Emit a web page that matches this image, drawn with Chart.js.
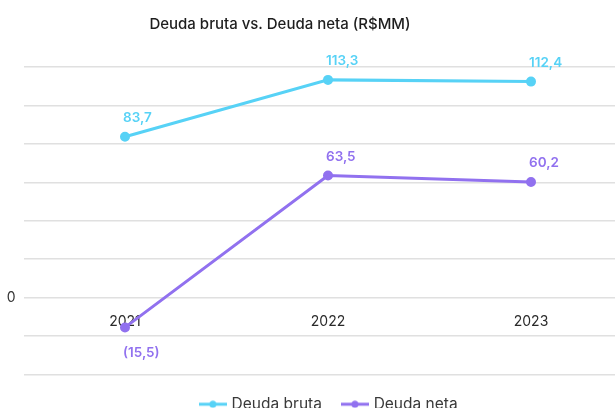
<!DOCTYPE html>
<html>
<head>
<meta charset="utf-8">
<script src="https://cdn.jsdelivr.net/npm/chart.js@4.4.1/dist/chart.umd.min.js"></script>
<style>
  html, body { margin: 0; padding: 0; background: #fff; overflow: hidden; }
  .wrap { position: relative; width: 615px; height: 408px; overflow: hidden; }
  .title {
    position: absolute; left: 0; top: 14px; width: 560px; text-align: center;
    font-family: Inter, sans-serif; font-weight: 500; font-size: 15px; color: #1e1e1e;
  }
</style>
</head>
<body>
<div class="wrap">
  <div class="title">Deuda bruta vs. Deuda neta (R$MM)</div>
  <canvas id="debtChart" width="640" height="408"></canvas>
</div>
<script>
const years = ["2021", "2022", "2023"];
const deudaBruta = [83.7, 113.3, 112.4];
const deudaNeta = [-15.5, 63.5, 60.2];
const yTicks = [-40, -20, 0, 20, 40, 60, 80, 100, 120];

const colorBruta = "#57d2f6";
const colorNeta = "#9171ef";

// marcador de la leyenda: línea con punto
function legendMarker(color) {
  const c = document.createElement("canvas");
  c.width = 28;
  c.height = 8;
  const g = c.getContext("2d");
  g.strokeStyle = color;
  g.lineWidth = 3;
  g.beginPath();
  g.moveTo(0, 4);
  g.lineTo(28, 4);
  g.stroke();
  g.fillStyle = color;
  g.beginPath();
  g.arc(14, 4, 3.5, 0, Math.PI * 2);
  g.fill();
  return c;
}

function fmt(v) {
  const s = Math.abs(v).toFixed(1).replace(".", ",");
  return v < 0 ? "(" + s + ")" : s;
}

// etiquetas de valores sobre cada punto
const valueLabels = {
  id: "valueLabels",
  afterLayout(chart) {
    // la leyenda del original está algo desplazada a la derecha
    chart.legend.left += 10;
    chart.legend.right += 10;
  },
  afterDatasetsDraw(chart) {
    const ctx = chart.ctx;
    ctx.save();
    ctx.font = "600 13.5px Inter, sans-serif";
    ctx.textAlign = "left";
    ctx.textBaseline = "middle";
    chart.data.datasets.forEach((ds, i) => {
      const meta = chart.getDatasetMeta(i);
      meta.data.forEach((pt, j) => {
        const v = ds.data[j];
        ctx.fillStyle = ds.borderColor;
        const y = v < 0 ? pt.y + 26 : pt.y - 19;
        ctx.fillText(fmt(v), pt.x - 2, y);
      });
    });
    ctx.restore();
  },
};

new Chart(document.getElementById("debtChart"), {
  type: "line",
  data: {
    labels: years,
    datasets: [
      {
        label: "Deuda bruta",
        data: deudaBruta,
        borderColor: colorBruta,
        backgroundColor: colorBruta,
        borderWidth: 3,
        pointRadius: 3.5,
        pointHoverRadius: 3.5,
        tension: 0,
      },
      {
        label: "Deuda neta",
        data: deudaNeta,
        borderColor: colorNeta,
        backgroundColor: colorNeta,
        borderWidth: 3,
        pointRadius: 3.5,
        pointHoverRadius: 3.5,
        tension: 0,
      },
    ],
  },
  options: {
    responsive: false,
    animation: false,
    layout: {
      padding: { top: 67, left: 7, right: 7.5, bottom: -14 },
    },
    scales: {
      x: {
        position: { y: 0 },
        offset: true,
        grid: { display: false },
        border: { display: false },
        ticks: {
          color: "#2a2a2a",
          font: { family: "Inter, sans-serif", size: 14 },
          padding: 8,
        },
      },
      y: {
        min: -40,
        max: 120,
        afterBuildTicks: (axis) => {
          axis.ticks = yTicks.map((v) => ({ value: v }));
        },
        afterFit: (axis) => {
          axis.width = 16.5;
        },
        grid: { color: "#e0e0e0", lineWidth: 1.5, drawTicks: false },
        border: { display: false },
        ticks: {
          color: "#333",
          font: { family: "Inter, sans-serif", size: 14 },
          padding: 8,
          callback: (v) => (v === 0 ? "0" : ""),
        },
      },
    },
    plugins: {
      title: { display: false },
      tooltip: { enabled: false },
      legend: {
        position: "bottom",
        labels: {
          usePointStyle: true,
          pointStyleWidth: 22,
          padding: 22,
          color: "#3a3a3a",
          font: { family: "Inter, sans-serif", size: 15.5 },
          generateLabels: (chart) =>
            chart.data.datasets.map((ds, i) => ({
              text: ds.label,
              fontColor: "#3a3a3a",
              pointStyle: legendMarker(ds.borderColor),
              datasetIndex: i,
              hidden: false,
              lineWidth: 0,
            })),
        },
      },
    },
  },
  plugins: [valueLabels],
});
</script>
</body>
</html>
